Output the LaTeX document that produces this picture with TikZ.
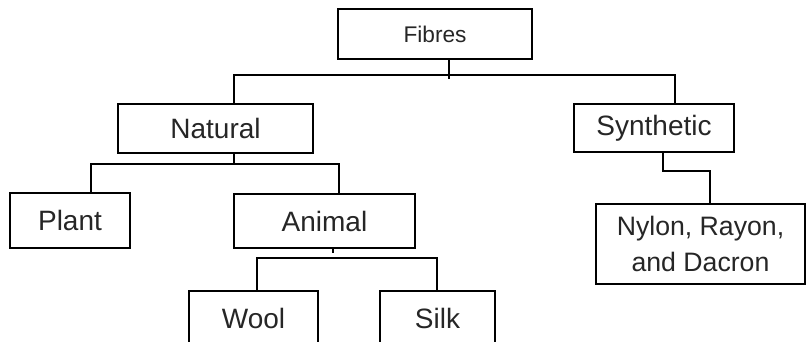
\documentclass[tikz,border=0pt]{standalone}
\usepackage{fontspec}
\setmainfont{Liberation Sans}
\begin{document}
\begin{tikzpicture}[x=0.75pt,y=-0.75pt,
  box/.style={draw=black,line width=1.3pt,inner sep=0pt,text=black!85,font=\fontsize{21}{27}\selectfont,align=center},
  link/.style={draw=black,line width=1.3pt}]
\useasboundingbox (0,0) rectangle (811,342);
\clip (0,0) rectangle (811,342);
\node[box,minimum width=194*0.75pt,minimum height=50*0.75pt,font=\fontsize{17}{20}\selectfont] (fibres) at (435,34) {Fibres};
\node[box,minimum width=195*0.75pt,minimum height=49*0.75pt] (natural) at (215.5,128.5) {Natural};
\node[box,minimum width=160*0.75pt,minimum height=48*0.75pt] (synthetic) at (654,128) {Synthetic};
\node[box,minimum width=120*0.75pt,minimum height=55*0.75pt] (plant) at (70,220.5) {Plant};
\node[box,minimum width=181*0.75pt,minimum height=54*0.75pt] (animal) at (324.5,221) {Animal};
\node[box,minimum width=209*0.75pt,minimum height=80*0.75pt,font=\fontsize{20}{27}\selectfont] (nylon) at (700.5,244) {Nylon, Rayon,\\and Dacron};
\node[box,minimum width=129*0.75pt,minimum height=54*0.75pt] (wool) at (253.5,318) {Wool};
\node[box,minimum width=115*0.75pt,minimum height=54*0.75pt] (silk) at (437.5,318) {Silk};
% bus coordinates
\coordinate (b1) at (449,75);
\coordinate (nx) at (234,0);
\coordinate (sx) at (675,0);
\coordinate (b2) at (234,164);
\coordinate (px) at (91,0);
\coordinate (ax) at (339,0);
\coordinate (b3) at (333,258);
\coordinate (wx) at (257,0);
\coordinate (kx) at (437,0);
\coordinate (s1) at (663,171);
\coordinate (s2) at (710,171);
% connectors
\draw[link] (fibres.south -| b1) -- ++(0,19);
\draw[link] (natural.north -| nx) |- (b1) -| (synthetic.north -| sx);
\draw[link] (natural.south -| b2) -- (b2);
\draw[link] (plant.north -| px) |- (b2) -| (animal.north -| ax);
\draw[link] (animal.south -| b3) -- ++(0,4);
\draw[link] (wool.north -| wx) |- (b3) -| (silk.north -| kx);
\draw[link] (synthetic.south -| s1) -- (s1) -- (s2) -- (nylon.north -| s2);
\end{tikzpicture}
\end{document}
